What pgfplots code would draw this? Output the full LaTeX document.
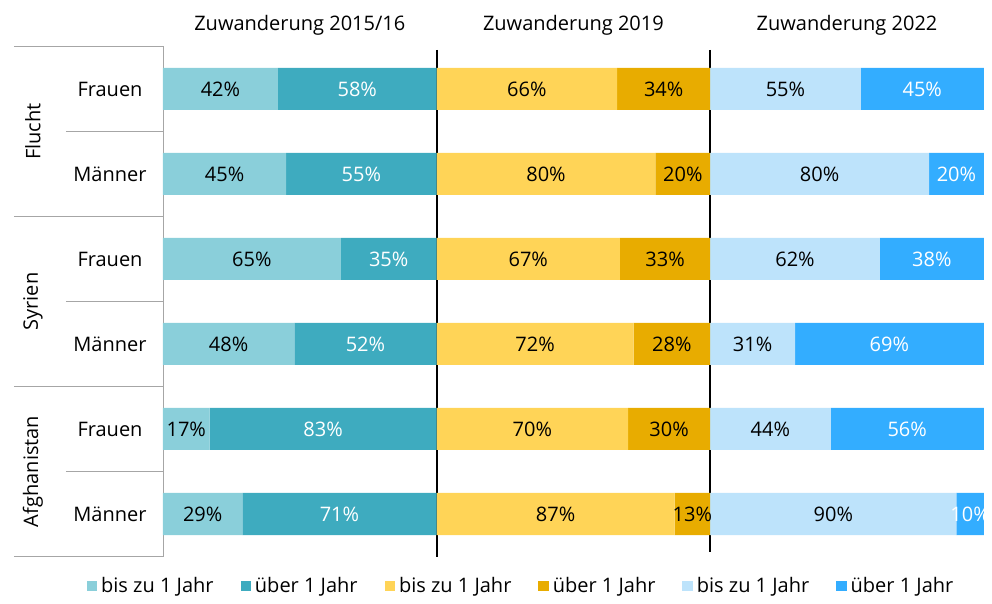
\documentclass[border=0pt]{standalone}
\usepackage{pgfplots}
\pgfplotsset{compat=1.18}
\usepackage{fontspec}
\setmainfont{Open Sans}
\definecolor{tealL}{HTML}{8ACFDA}
\definecolor{tealD}{HTML}{3EABBF}
\definecolor{yelL}{HTML}{FFD457}
\definecolor{yelD}{HTML}{E8AC00}
\definecolor{bluL}{HTML}{BDE3FB}
\definecolor{bluD}{HTML}{33ADFF}
\definecolor{lgray}{HTML}{A6A6A6}
\begin{document}
\begin{tikzpicture}
\begin{axis}[
  xbar stacked,
  x=1.368pt, y=42.5pt,
  y dir=reverse,
  xmin=0, xmax=300, ymin=0.5, ymax=6.5,
  bar width=21pt,
  hide axis,
  clip=false,
  /pgf/number format/assume math mode=true,
  point meta=rawx,
  nodes near coords={\pgfmathprintnumber{\pgfplotspointmeta}\%},
  every node near coord/.append style={anchor=center, font=\normalsize, inner xsep=0pt},
  legend columns=6,
  legend style={draw=none, at={(0.435,-0.058)}, anchor=center, font=\normalsize,
    /tikz/every odd column/.append style={column sep=2pt},
    /tikz/every even column/.append style={column sep=13.5pt},
    nodes={inner xsep=0pt}},
  legend image code/.code={\fill[#1,draw=none] (0pt,-2.6pt) rectangle (5.2pt,2.6pt);},
]
\addplot[fill=tealL, draw=none, every node near coord/.append style={text=black}] coordinates {(42,1) (45,2) (65,3) (48,4) (17,5) (29,6)};
\addplot[fill=tealD, draw=none, every node near coord/.append style={text=white}] coordinates {(58,1) (55,2) (35,3) (52,4) (83,5) (71,6)};
\addplot[fill=yelL, draw=none, every node near coord/.append style={text=black}] coordinates {(66,1) (80,2) (67,3) (72,4) (70,5) (87,6)};
\addplot[fill=yelD, draw=none, every node near coord/.append style={text=black}] coordinates {(34,1) (20,2) (33,3) (28,4) (30,5) (13,6)};
\addplot[fill=bluL, draw=none, every node near coord/.append style={text=black}] coordinates {(55,1) (80,2) (62,3) (31,4) (44,5) (90,6)};
\addplot[fill=bluD, draw=none, every node near coord/.append style={text=white}] coordinates {(45,1) (20,2) (38,3) (69,4) (56,5) (10,6)};
\legend{bis zu 1 Jahr, über 1 Jahr, bis zu 1 Jahr, über 1 Jahr, bis zu 1 Jahr, über 1 Jahr}
% titles
\node[anchor=center] at ([yshift=10.75pt]axis cs:50,0.5) {Zuwanderung 2015/16};
\node[anchor=center] at ([yshift=10.75pt]axis cs:150,0.5) {Zuwanderung 2019};
\node[anchor=center] at ([yshift=10.75pt]axis cs:250,0.5) {Zuwanderung 2022};
% left structure
\draw[lgray] (axis cs:0,0.5) -- (axis cs:0,6.5);
\draw[lgray] ([xshift=-74.5pt]axis cs:0,0.5) -- (axis cs:0,0.5);
\draw[lgray] ([xshift=-74.5pt]axis cs:0,2.5) -- (axis cs:0,2.5);
\draw[lgray] ([xshift=-74.5pt]axis cs:0,4.5) -- (axis cs:0,4.5);
\draw[lgray] ([xshift=-74.5pt]axis cs:0,6.5) -- (axis cs:0,6.5);
\draw[lgray] ([xshift=-48.5pt]axis cs:0,1.5) -- (axis cs:0,1.5);
\draw[lgray] ([xshift=-48.5pt]axis cs:0,3.5) -- (axis cs:0,3.5);
\draw[lgray] ([xshift=-48.5pt]axis cs:0,5.5) -- (axis cs:0,5.5);
\node at ([xshift=-26.5pt]axis cs:0,1) {Frauen};
\node at ([xshift=-26.5pt]axis cs:0,2) {Männer};
\node at ([xshift=-26.5pt]axis cs:0,3) {Frauen};
\node at ([xshift=-26.5pt]axis cs:0,4) {Männer};
\node at ([xshift=-26.5pt]axis cs:0,5) {Frauen};
\node at ([xshift=-26.5pt]axis cs:0,6) {Männer};
\node[rotate=90] at ([xshift=-65pt]axis cs:0,1.5) {Flucht};
\node[rotate=90] at ([xshift=-65pt]axis cs:0,3.5) {Syrien};
\node[rotate=90] at ([xshift=-65pt]axis cs:0,5.5) {Afghanistan};
% dividers
\draw[black, line width=1pt] (axis cs:100,0.54) -- (axis cs:100,6.51);
\draw[black, line width=1pt] (axis cs:200,0.54) -- (axis cs:200,6.45);
\end{axis}
\path (current axis.north west) ++(-81.5pt,23.25pt) rectangle ++(496pt,-298.5pt);
\end{tikzpicture}
\end{document}
